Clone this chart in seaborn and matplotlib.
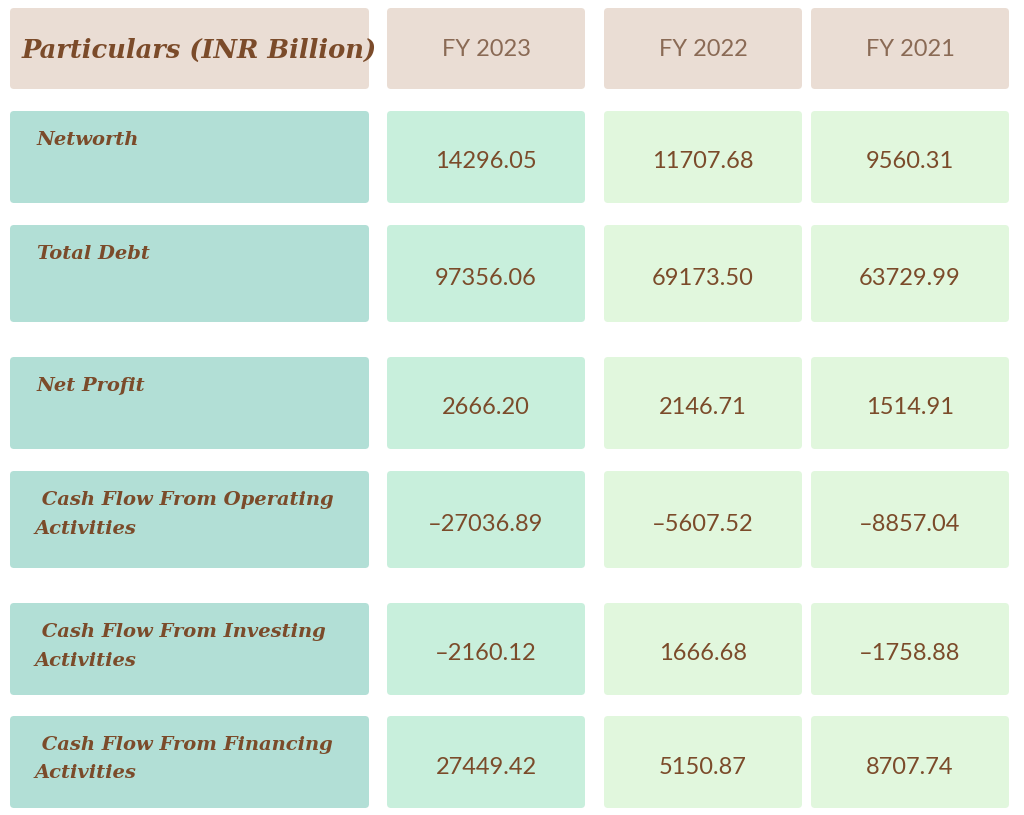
import matplotlib.pyplot as plt
import seaborn as sns
from matplotlib.patches import FancyBboxPatch

sns.set_theme(style="white")

headers = ["Particulars (INR Billion)", "FY 2023", "FY 2022", "FY 2021"]
particulars = ["Networth", "Total Debt", "Net Profit",
               " Cash Flow From Operating\nActivities",
               " Cash Flow From Investing\nActivities",
               " Cash Flow From Financing\nActivities"]
fy2023 = ["14296.05", "97356.06", "2666.20", "-27036.89", "-2160.12", "27449.42"]
fy2022 = ["11707.68", "69173.50", "2146.71", "-5607.52", "1666.68", "5150.87"]
fy2021 = ["9560.31", "63729.99", "1514.91", "-8857.04", "-1758.88", "8707.74"]

col_x = [(10, 369), (387, 585), (604, 802), (811, 1009)]
row_y = [(111, 203), (225, 322), (357, 449), (471, 568), (603, 695), (716, 808)]
head_y = (8, 89)

brown = "#7b4b2a"
fills = ["#b2dfd6", "#c8efdc", "#e1f7dd", "#e1f7dd"]
head_fill = "#eaddd4"

fig = plt.figure(figsize=(10.24, 8.15), dpi=100)
ax = fig.add_axes([0, 0, 1, 1])
ax.set_xlim(0, 1024)
ax.set_ylim(815, 0)
ax.axis("off")


def box(x0, x1, y0, y1, color):
    ax.add_patch(FancyBboxPatch((x0 + 4, y0 + 4), x1 - x0 - 8, y1 - y0 - 8,
                                boxstyle="round,pad=4", fc=color, ec="none"))


for (x0, x1), h in zip(col_x, headers):
    box(x0, x1, head_y[0], head_y[1], head_fill)
    if h.startswith("Part"):
        ax.text(22, 50, h, ha="left", va="center", color=brown, fontsize=18.5,
                family="DejaVu Serif", style="italic", weight="bold")
    else:
        ax.text((x0 + x1) / 2, 50, h, ha="center", va="center", color="#8a6a55",
                fontsize=17, family="Lato")

cols = [fy2023, fy2022, fy2021]
for i, (y0, y1) in enumerate(row_y):
    for j, (x0, x1) in enumerate(col_x):
        box(x0, x1, y0, y1, fills[j])
    lab = particulars[i]
    if "\n" in lab:
        ax.text(35, y0 + 20, lab, ha="left", va="top", color=brown, fontsize=14,
                family="DejaVu Serif", style="italic", weight="bold", linespacing=1.75)
    else:
        ax.text(37, y0 + 29, lab, ha="left", va="center", color=brown, fontsize=14,
                family="DejaVu Serif", style="italic", weight="bold")
    for j, vals in enumerate(cols):
        x0, x1 = col_x[j + 1]
        ax.text((x0 + x1) / 2, (y0 + y1) / 2 + 5, vals[i].replace("-", "\u2013"),
                ha="center", va="center", color=brown, fontsize=17, family="Lato")

fig.savefig("out.png", dpi=100, facecolor="white")
